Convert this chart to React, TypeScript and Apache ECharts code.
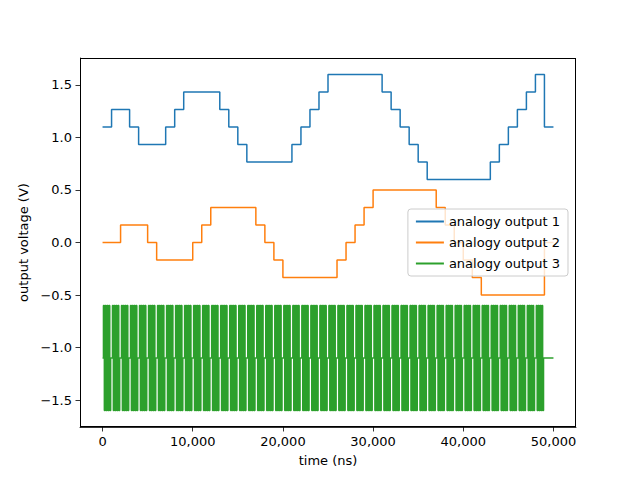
import { useEffect, useRef } from "react"
import * as echarts from "echarts"

// breakpoints [time (ns), value], step held until next point
const output1: [number, number][] = [
  [0, 1.1], [1000, 1.267], [3000, 1.1], [4000, 0.933], [7000, 1.1], [8000, 1.267], [9000, 1.433],
  [13000, 1.267], [14000, 1.1], [15000, 0.933], [16000, 0.767], [21000, 0.933], [22000, 1.1],
  [23000, 1.267], [24000, 1.433], [25000, 1.6], [31000, 1.433], [32000, 1.267], [33000, 1.1],
  [34000, 0.933], [35000, 0.767], [36000, 0.6], [43000, 0.767], [44000, 0.933], [45000, 1.1],
  [46000, 1.267], [47000, 1.433], [48000, 1.6], [49000, 1.1], [50000, 1.1],
]
const output2: [number, number][] = [
  [0, 0], [2000, 0.167], [5000, 0], [6000, -0.167], [10000, 0], [11000, 0.167], [12000, 0.333],
  [17000, 0.167], [18000, 0], [19000, -0.167], [20000, -0.333], [26000, -0.167], [27000, 0],
  [28000, 0.167], [29000, 0.333], [30000, 0.5], [37000, 0.333], [38000, 0.167], [39000, 0],
  [40000, -0.167], [41000, -0.333], [42000, -0.5], [49000, 0], [50000, 0],
]
// one 1000 ns burst of output 3: [offset (ns), value]
const burst: [number, number][] = [
  [0, -1.1], [100, -0.6], [200, -1.6], [300, -0.6], [400, -1.6], [500, -0.6],
  [600, -1.6], [700, -0.6], [800, -1.6], [900, -1.1],
]
const burstCount = 49
const output3: [number, number][] = []
for (let k = 0; k < burstCount; k++) {
  burst.forEach(([t, v]) => output3.push([k * 1000 + t, v]))
}
output3.push([50000, -1.1])

const names = ["analogy output 1", "analogy output 2", "analogy output 3"]
const colors = ["#1f77b4", "#ff7f0e", "#2ca02c"]

export default function App() {
  const chartRef = useRef<HTMLDivElement>(null)

  useEffect(() => {
    if (!chartRef.current) return
    const chart = echarts.init(chartRef.current, undefined, { renderer: "svg" })
    const font = "DejaVu Sans"
    const axisCommon = {
      axisLine: { onZero: false, lineStyle: { color: "#000", width: 0.8 } },
      axisTick: { lineStyle: { color: "#000", width: 0.8 }, length: 4.5 },
      axisLabel: { color: "#000", fontSize: 13, fontFamily: font },
      splitLine: { show: false },
      nameTextStyle: { color: "#000", fontSize: 13, fontFamily: font },
    }
    chart.setOption({
      animation: false,
      color: colors,
      grid: { left: 80, right: 64, top: 58, bottom: 53 },
      legend: {
        orient: "vertical",
        right: 72,
        top: 209,
        itemWidth: 28,
        itemHeight: 2,
        itemGap: 8,
        icon: "rect",
        padding: [6, 8],
        borderColor: "#ccc",
        borderWidth: 1,
        borderRadius: 3,
        backgroundColor: "rgba(255,255,255,0.8)",
        textStyle: { fontSize: 13, fontFamily: font, color: "#000" },
        data: names,
      },
      xAxis: {
        type: "value",
        min: -2500,
        max: 52500,
        interval: 10000,
        name: "time (ns)",
        nameLocation: "middle",
        nameGap: 27,
        ...axisCommon,
        axisLabel: {
          ...axisCommon.axisLabel,
          customValues: [0, 10000, 20000, 30000, 40000, 50000],
        },
        axisTick: { ...axisCommon.axisTick, customValues: [0, 10000, 20000, 30000, 40000, 50000] },
      },
      yAxis: {
        type: "value",
        min: -1.757,
        max: 1.757,
        name: "output voltage (V)",
        nameLocation: "middle",
        nameGap: 48,
        ...axisCommon,
        axisLabel: {
          ...axisCommon.axisLabel,
          customValues: [-1.5, -1, -0.5, 0, 0.5, 1, 1.5],
          formatter: (v: number) => v.toFixed(1).replace("-", "\u2212"),
        },
        axisTick: { ...axisCommon.axisTick, customValues: [-1.5, -1, -0.5, 0, 0.5, 1, 1.5] },
      },
      series: [output1, output2, output3].map((d, i) => ({
        name: names[i],
        type: "line",
        step: "end",
        data: d,
        showSymbol: false,
        lineStyle: { width: 1.5, color: colors[i] },
        itemStyle: { color: colors[i] },
        z: 2 + i,
      })),
    })
    return () => chart.dispose()
  }, [])

  return (
    <div style={{ position: "fixed", left: 0, top: 0, width: 640, height: 480, background: "#fff" }}>
      <div ref={chartRef} style={{ width: 640, height: 480 }} />
      <div style={{ position: "absolute", left: 80, top: 58, width: 496, height: 369, border: "0.8px solid #000", boxSizing: "border-box", pointerEvents: "none" }} />
    </div>
  )
}
